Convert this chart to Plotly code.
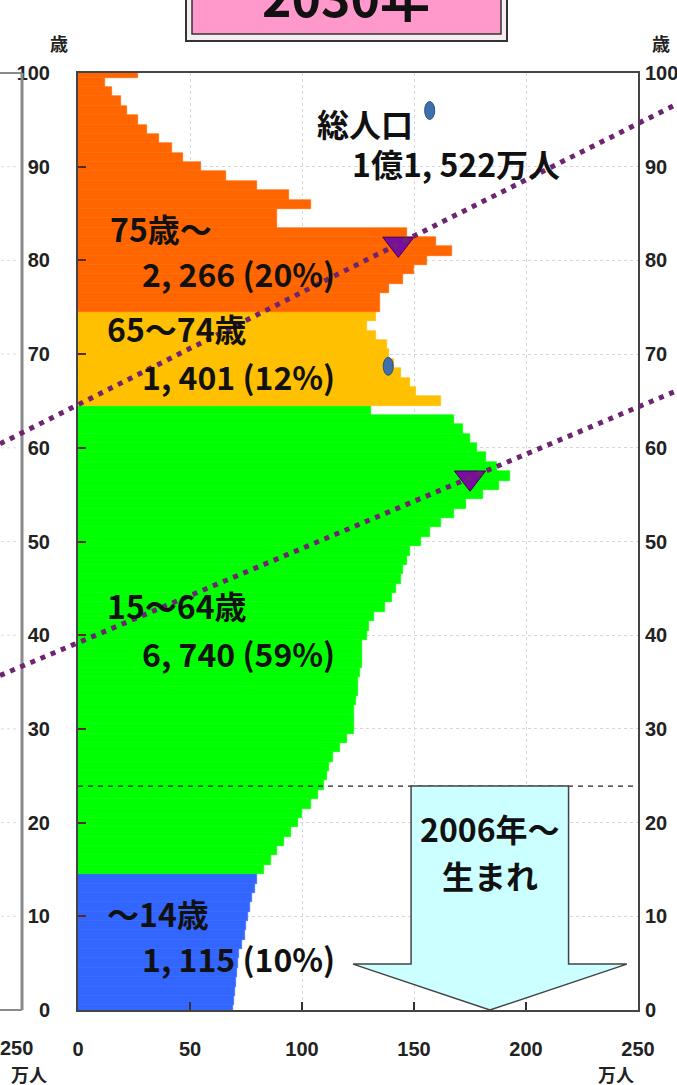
import plotly.graph_objects as go

# ---------------- data ----------------
ages = list(range(0, 101))
pop = [69, 69.7, 70, 70.5, 71, 71.5, 72, 73, 74.5, 75,
       76, 77, 77.5, 79, 80, 83, 86, 89, 92, 95,
       98, 100, 104, 107, 110, 111, 112, 114, 117, 120,
       123, 123, 123, 124, 125, 125, 126, 127, 127, 127,
       129, 130, 132, 137, 140, 142, 144, 145, 147, 148,
       153, 157, 162, 168, 173, 181, 188, 193, 187, 182,
       178, 175, 172, 168, 131, 162, 151, 148, 144, 141,
       139, 138, 133, 129, 133, 135, 135, 139, 145, 150,
       156, 167, 160, 147, 89, 89, 104, 94, 80, 66,
       55, 47, 42, 36, 31, 27, 22, 19, 15, 12, 27]

group_names = ["～14歳", "15～64歳", "65～74歳", "75歳～"]
group_totals = ["1, 115 (10%)", "6, 740 (59%)", "1, 401 (12%)", "2, 266 (20%)"]
group_lower = [0, 15, 65, 75]
group_colors = ["#3366FF", "#00FF00", "#FFC000", "#FF6600"]

total_label = ["総人口", "1億1, 522万人"]
title_text = "2030年"
birth_label = ["2006年～", "生まれ"]
birth_boundary_age = 23.9

x_ticks = [0, 50, 100, 150, 200, 250]
y_ticks = list(range(0, 101, 10))

# cohort guide lines: (age at x=0, age increase per 万人)
cohort_lines = [(64.6, 0.120), (39.2, 0.1006)]
cohort_marks_x = [143, 175]

# stray blue dots in the picture (value, age)
blue_dots_x = [157, 138.5]
blue_dots_age = [96, 68.7]

# block arrow outline (value, age)
arrow_x = [148.7, 219, 219, 245, 183.9, 122.8, 148.7]
arrow_age = [23.9, 23.9, 4.9, 4.9, 0, 4.9, 4.9]

# ---------------- figure ----------------
W, H = 677, 1085
ML, MR, MT, MB = 78, 39, 73, 75
PW, PH = W - ML - MR, H - MT - MB
XMAX, YMAX = 250, 100

def color_for(age):
    c = group_colors[0]
    for lo, col in zip(group_lower, group_colors):
        if age >= lo:
            c = col
    return c

bar_colors = [color_for(a) for a in ages]

def px2paper_x(px):
    return (px - ML) / PW

def px2paper_y(py):
    return (MT + PH - py) / PH

fig = go.Figure()
fig.add_trace(go.Bar(
    x=pop, y=ages, orientation="h", width=1,
    marker=dict(color=bar_colors, line=dict(color=bar_colors, width=0.6)),
    hoverinfo="skip", showlegend=False))

# cohort triangles
fig.add_trace(go.Scatter(
    x=cohort_marks_x,
    y=[a0 + s * x for (a0, s), x in zip(cohort_lines, cohort_marks_x)],
    mode="markers", cliponaxis=False, showlegend=False, hoverinfo="skip",
    marker=dict(symbol="triangle-down", size=27, color="#7A0DA0",
                line=dict(color="#3a0050", width=1))))

# invisible trace for the right-hand axis
fig.add_trace(go.Scatter(x=[0], y=[0], yaxis="y2", mode="markers",
                         marker=dict(opacity=0), showlegend=False, hoverinfo="skip"))

shapes = []
# left neighbour chart fragment
frag_x = px2paper_x(22)
shapes.append(dict(type="line", xref="paper", yref="paper", x0=frag_x, x1=frag_x,
                   y0=0, y1=1, line=dict(color="#8a8a8a", width=3), layer="above"))
shapes.append(dict(type="line", xref="paper", yref="paper", x0=px2paper_x(-5), x1=frag_x,
                   y0=1, y1=1, line=dict(color="#8a8a8a", width=2), layer="above"))
shapes.append(dict(type="line", xref="paper", yref="paper", x0=px2paper_x(-5), x1=frag_x,
                   y0=0, y1=0, line=dict(color="#8a8a8a", width=2), layer="above"))
for t in y_ticks[1:-1]:
    shapes.append(dict(type="line", xref="paper", yref="paper", x0=px2paper_x(-5),
                       x1=px2paper_x(19), y0=t / YMAX, y1=t / YMAX,
                       line=dict(color="#dddddd", width=1, dash="dot"), layer="below"))

# birth-cohort dashed boundary
shapes.append(dict(type="line", xref="x", yref="y", x0=0, x1=XMAX,
                   y0=birth_boundary_age, y1=birth_boundary_age,
                   line=dict(color="#222222", width=1.3, dash="5px,5px"), layer="above"))

# block arrow
path = "M " + " L ".join(f"{x},{a}" for x, a in zip(arrow_x, arrow_age)) + " Z"
shapes.append(dict(type="path", xref="x", yref="y", path=path,
                   fillcolor="#CCFFFF", line=dict(color="#444444", width=1.5), layer="above"))

# dotted cohort lines (extend across the whole picture)
v0 = (0 - ML) / PW * XMAX
v1 = (W - ML) / PW * XMAX
for a0, s in cohort_lines:
    shapes.append(dict(type="line", xref="paper", yref="paper",
                       x0=v0 / XMAX, x1=v1 / XMAX,
                       y0=(a0 + s * v0) / YMAX, y1=(a0 + s * v1) / YMAX,
                       line=dict(color="#6E2470", width=5, dash="5px,6px"), layer="above"))

# blue stray dots
for bx, ba in zip(blue_dots_x, blue_dots_age):
    shapes.append(dict(type="circle", xref="x", yref="y", xsizemode="pixel", ysizemode="pixel",
                       xanchor=bx, yanchor=ba, x0=-5, x1=5, y0=-9, y1=9,
                       fillcolor="#3F70AE", line=dict(color="#2B4F80", width=1), layer="above"))

# title box (cropped at top)
shapes.append(dict(type="rect", xref="paper", yref="paper",
                   x0=px2paper_x(186), x1=px2paper_x(507), y0=px2paper_y(41), y1=px2paper_y(-30),
                   fillcolor="#f4eef2", line=dict(color="#333333", width=2), layer="above"))
shapes.append(dict(type="rect", xref="paper", yref="paper",
                   x0=px2paper_x(192), x1=px2paper_x(501), y0=px2paper_y(34), y1=px2paper_y(-30),
                   fillcolor="#FF99CC", line=dict(color="#333333", width=1.5), layer="above"))

txt_font = dict(family="Noto Sans CJK JP", size=32, color="#111111", weight=700)
ann = []
# group labels
group_label_pos = [(12, 10.4, 27.7, 5.6), (12, 43.2, 27.7, 38.1),
                   (12, 72.8, 27.7, 67.7), (13.4, 83.5, 27.7, 78.7)]
for name, tot, (nx, ny, tx, ty) in zip(group_names, group_totals, group_label_pos):
    ann.append(dict(x=nx, y=ny, xref="x", yref="y", text=name, showarrow=False,
                    xanchor="left", yanchor="middle", font=txt_font))
    ann.append(dict(x=tx, y=ty, xref="x", yref="y", text=tot, showarrow=False,
                    xanchor="left", yanchor="middle", font=txt_font))
ann.append(dict(x=105.8, y=94.7, xref="x", yref="y", text=total_label[0], showarrow=False,
                xanchor="left", yanchor="middle", font=txt_font))
ann.append(dict(x=121.4, y=90.4, xref="x", yref="y", text=total_label[1], showarrow=False,
                xanchor="left", yanchor="middle", font=txt_font))
ann.append(dict(x=183.9, y=19.4, xref="x", yref="y", text=birth_label[0], showarrow=False,
                xanchor="center", yanchor="middle", font=txt_font))
ann.append(dict(x=183.9, y=14.4, xref="x", yref="y", text=birth_label[1], showarrow=False,
                xanchor="center", yanchor="middle", font=txt_font))

# title text (cropped)
ann.append(dict(x=px2paper_x(346), y=px2paper_y(-5), xref="paper", yref="paper",
                text=title_text, showarrow=False, xanchor="center", yanchor="middle",
                font=dict(family="Noto Sans CJK JP", size=50, color="#111111", weight=700)))

small_font = dict(family="Noto Sans CJK JP", size=18, color="#222222", weight=700)
ann.append(dict(x=px2paper_x(48), y=px2paper_y(28), xref="paper", yref="paper", text="歳",
                showarrow=False, font=small_font))
ann.append(dict(x=px2paper_x(672), y=px2paper_y(28), xref="paper", yref="paper", text="歳",
                showarrow=False, font=small_font))
ann.append(dict(x=px2paper_x(636), y=px2paper_y(1059), xref="paper", yref="paper", text="万人",
                showarrow=False, yanchor="top", font=small_font))
ann.append(dict(x=px2paper_x(9), y=px2paper_y(1059), xref="paper", yref="paper", text="万人",
                showarrow=False, yanchor="top", font=small_font))
tick_font = dict(family="Liberation Sans", size=20, color="#222222", weight=700)
ann.append(dict(x=px2paper_x(35), y=px2paper_y(1048), xref="paper", yref="paper",
                text=str(x_ticks[-1]), showarrow=False, xanchor="right", yanchor="middle",
                font=tick_font))

fig.update_layout(
    width=W, height=H,
    margin=dict(l=ML, r=MR, t=MT, b=MB, pad=0, autoexpand=False),
    paper_bgcolor="white", plot_bgcolor="white",
    bargap=0, showlegend=False,
    shapes=shapes, annotations=ann,
    xaxis=dict(range=[0, XMAX], tickvals=x_ticks, ticktext=[str(t) for t in x_ticks],
               showgrid=True, gridcolor="#d8d8d8", griddash="dot", gridwidth=1,
               zeroline=False, showline=True, mirror=True, linecolor="#444444", linewidth=2,
               ticks="inside", ticklen=8, tickcolor="#333333", tickwidth=1.5,
               tickfont=tick_font, ticklabelstandoff=20, fixedrange=True, automargin=False),
    yaxis=dict(range=[0, YMAX], tickvals=y_ticks,
               showgrid=True, gridcolor="#d8d8d8", griddash="dot", gridwidth=1,
               zeroline=False, showline=True, mirror=True, linecolor="#444444", linewidth=2,
               ticks="inside", ticklen=8, tickcolor="#5a2a1a", tickwidth=2,
               tickfont=tick_font, ticklabelstandoff=22, fixedrange=True, automargin=False),
    yaxis2=dict(range=[0, YMAX], tickvals=y_ticks, overlaying="y", side="right",
                showgrid=False, zeroline=False, showline=False, ticks="",
                tickfont=tick_font, ticklabelstandoff=6, fixedrange=True, automargin=False),
)

fig.write_html("out.html", config={"displayModeBar": False},
               post_script="document.body.style.margin='0';document.body.style.padding='0';"
                           "document.body.style.overflow='hidden';")
